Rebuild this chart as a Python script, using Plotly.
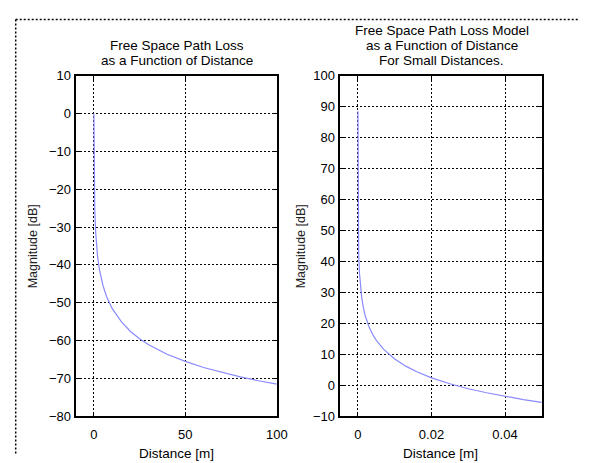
import plotly.graph_objects as go

W, H = 593, 463

# ---- data ----
dist_long = [0.027, 0.1, 0.3, 0.5, 1, 2, 3, 5, 7, 10, 15, 20, 25, 30, 40, 50, 60, 70, 80, 90, 100]
loss_long = [0.0, -11.5, -21.1, -25.5, -31.5, -37.6, -41.1, -45.5, -48.4, -51.5, -55.0, -57.6,
             -59.5, -61.1, -63.6, -65.5, -67.1, -68.4, -69.6, -70.6, -71.5]

dist_short = [0.000001, 0.00001, 0.00005, 0.0001, 0.0002, 0.0004, 0.0007, 0.001, 0.0015, 0.002,
              0.003, 0.004, 0.005, 0.007, 0.01, 0.013, 0.016, 0.02, 0.025, 0.03, 0.035, 0.04,
              0.045, 0.05]
loss_short = [88.5, 68.5, 54.5, 48.5, 42.4, 36.4, 31.6, 28.5, 24.9, 22.4, 18.9, 16.4, 14.5, 11.6,
              8.5, 6.2, 4.4, 2.4, 0.5, -1.1, -2.4, -3.6, -4.6, -5.5]

left_xticks = [0, 50, 100]
left_xlabels = ["0", "50", "100"]
right_xticks = [0, 0.02, 0.04]
right_xlabels = ["0", "0.02", "0.04"]

title_left = ["Free Space Path Loss", "as a Function of Distance"]
title_right = ["Free Space Path Loss Model", "as a Function of Distance", "For Small Distances."]
xlabel = "Distance [m]"
ylabel = "Magnitude [dB]"

# ---- layout helpers (pixel -> paper) ----
def px(x):
    return x / W

def py(y):
    return 1 - y / H

FONT = "Liberation Sans, Arial, sans-serif"
LINE_COLOR = "#8a8aff"

fig = go.Figure()
fig.add_trace(go.Scatter(x=dist_long, y=loss_long, mode="lines",
                         line=dict(color=LINE_COLOR, width=1.2), xaxis="x", yaxis="y",
                         showlegend=False, hoverinfo="skip"))
fig.add_trace(go.Scatter(x=dist_short, y=loss_short, mode="lines",
                         line=dict(color=LINE_COLOR, width=1.2), xaxis="x2", yaxis="y2",
                         showlegend=False, hoverinfo="skip"))

grid_dash = "2px,2px"
common = dict(showline=True, linecolor="black", linewidth=2, mirror="ticks",
              ticks="inside", ticklen=4, tickcolor="black", tickwidth=1,
              showgrid=True, gridcolor="black", gridwidth=1, griddash=grid_dash,
              zeroline=False, tickfont=dict(family=FONT, size=13, color="black"),
              fixedrange=True)

ytop, ybot = 71, 423
fig.update_layout(
    width=W, height=H,
    margin=dict(l=0, r=0, t=0, b=0),
    paper_bgcolor="white", plot_bgcolor="white",
    showlegend=False,
    xaxis=dict(domain=[px(77), px(282)], range=[-10, 100], tickvals=left_xticks,
               ticktext=left_xlabels, anchor="y", ticklabelstandoff=5, **common),
    yaxis=dict(domain=[py(ybot), py(ytop)], range=[-80, 10], dtick=10, anchor="x", **common),
    xaxis2=dict(domain=[px(346), px(552)], range=[-0.005, 0.05], tickvals=right_xticks,
                ticktext=right_xlabels, anchor="y2", ticklabelstandoff=5, **common),
    yaxis2=dict(domain=[py(ybot), py(ytop)], range=[-10, 100], dtick=10, anchor="x2", **common),
)

ann = []
tfont = dict(family=FONT, size=13.5, color="black")
for i, t in enumerate(title_left):
    ann.append(dict(text=t, x=px(180), y=py(40 + 15 * i), xref="paper", yref="paper",
                    xanchor="center", yanchor="middle", showarrow=False, font=tfont))
for i, t in enumerate(title_right):
    ann.append(dict(text=t, x=px(450), y=py(24 + 15.5 * i), xref="paper", yref="paper",
                    xanchor="center", yanchor="middle", showarrow=False, font=tfont))
for cx in (180, 449):
    ann.append(dict(text=xlabel, x=px(cx), y=py(461), xref="paper", yref="paper",
                    xanchor="center", yanchor="middle", showarrow=False,
                    font=dict(family=FONT, size=13.5, color="black")))
for cx in (34, 307):
    ann.append(dict(text=ylabel, x=px(cx), y=py(247), xref="paper", yref="paper",
                    xanchor="center", yanchor="middle", showarrow=False, textangle=-90,
                    font=dict(family=FONT, size=12.5, color="#222")))
fig.update_layout(annotations=ann)

# dotted page border (top and left)
border = dict(color="black", width=1.5, dash="2px,2px")
fig.update_layout(shapes=[
    dict(type="line", xref="paper", yref="paper", x0=px(16), x1=px(590), y0=py(13), y1=py(13), line=border),
    dict(type="line", xref="paper", yref="paper", x0=px(16), x1=px(16), y0=py(13), y1=py(463), line=border),
])

fig.write_html("out.html")
